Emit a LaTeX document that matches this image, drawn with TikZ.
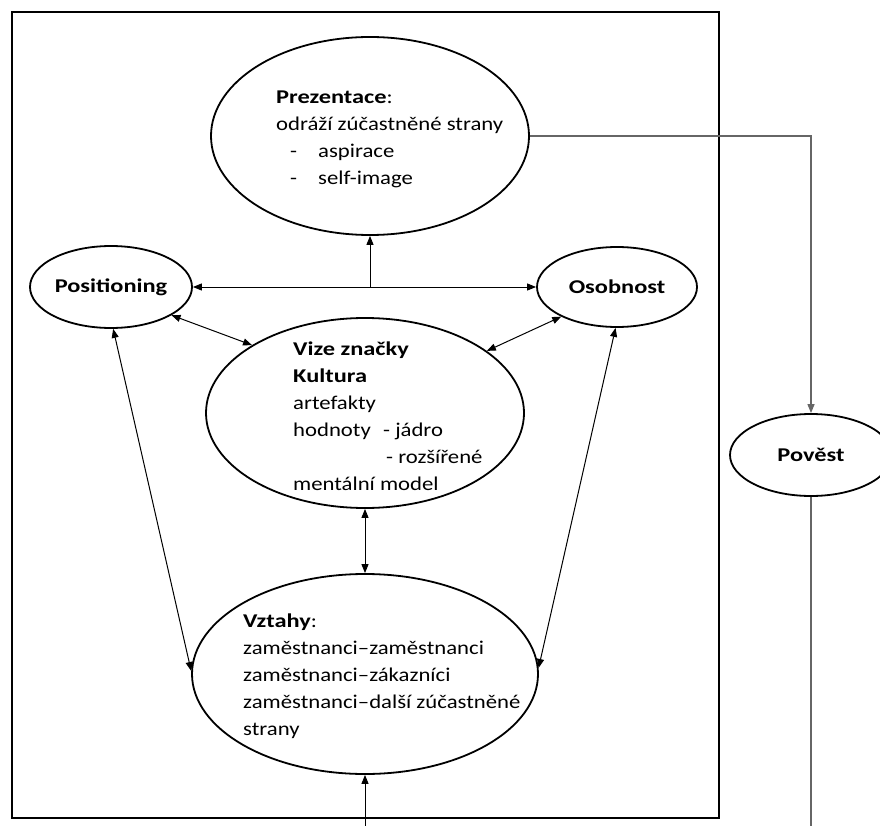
\documentclass[tikz,border=0pt]{standalone}
\usepackage{fontspec}
\setmainfont{Carlito}[UprightFeatures={FakeStretch=1.165},
  BoldFeatures={FakeStretch=1.25}]
\usetikzlibrary{arrows.meta,shapes.geometric}

\begin{document}
\begin{tikzpicture}[x=1pt, y=-1pt,
  oval/.style={ellipse, draw, line width=1.8pt, inner sep=0pt,
               font=\fontsize{19.5}{27}\selectfont\bfseries},
  txt/.style={anchor=base west, align=left, inner sep=0pt,
              font=\fontsize{19.5}{27}\selectfont},
  tip/.style={-{Triangle[length=9pt,width=7pt]}},
  arr/.style={tip, line width=1pt},
  darr/.style={{Triangle[length=9pt,width=7pt]}-{Triangle[length=9pt,width=7pt]}, line width=1pt},
  gline/.style={draw=black!60, line width=1.2pt}
]
\useasboundingbox (0,0) rectangle (880,826);

% outer frame
\draw[line width=2pt] (12,12) rectangle (719,818);

% ovals
\node[oval, minimum width=318pt, minimum height=198pt] (prez) at (370,136) {};
\node[oval, minimum width=162pt, minimum height=82pt] (posit) at (111,287) {Positioning};
\node[oval, minimum width=160pt, minimum height=80pt] (osob) at (617,287) {Osobnost};
\node[oval, minimum width=318pt, minimum height=190pt] (vize) at (365,413) {};
\node[oval, minimum width=346pt, minimum height=200pt] (vztahy) at (365,674) {};
\node[oval, minimum width=162pt, minimum height=82pt] (povest) at (811,455) {Pověst};

% texts inside the big ovals (placed at the baseline of the last line)
\node[txt] (prezText) at (276,185)
  {\textbf{Prezentace}:\\
   odráží zúčastněné strany\\
   \hspace*{14pt}\makebox[28pt][l]{-}aspirace\\
   \hspace*{14pt}\makebox[28pt][l]{-}self-image};
\node[txt] (vizeText) at (293,490)
  {\textbf{Vize značky}\\
   \textbf{Kultura}\\
   artefakty\\
   \makebox[90pt][l]{hodnoty}- jádro\\
   \hspace*{93pt}- rozšířené\\
   mentální model};
\node[txt] (vztahyText) at (243,735)
  {\textbf{Vztahy}:\\
   zaměstnanci–zaměstnanci\\
   zaměstnanci–zákazníci\\
   zaměstnanci–další zúčastněné\\
   strany};

% connectors
\draw[darr] (posit) -- (osob);
\draw[arr] (posit -| prez.south) -- (prez.south);
\draw[darr] (posit.-25) -- (vize.149);
\draw[darr] (osob.208) -- (vize.27);
\draw[darr] (posit.-87) -- (vztahy.179);
\draw[darr] (osob.-92) -- (vztahy.2);
\draw[darr] (vize.south) -- (vztahy.north);
\coordinate (vstup) at (365,826);
\draw[arr] (vstup) -- (vztahy.south);

\draw[gline, tip] (prez.east) -| (povest.north);
\coordinate (okraj) at (811,826);
\draw[gline] (povest.south) -- (okraj);
\end{tikzpicture}
\end{document}
